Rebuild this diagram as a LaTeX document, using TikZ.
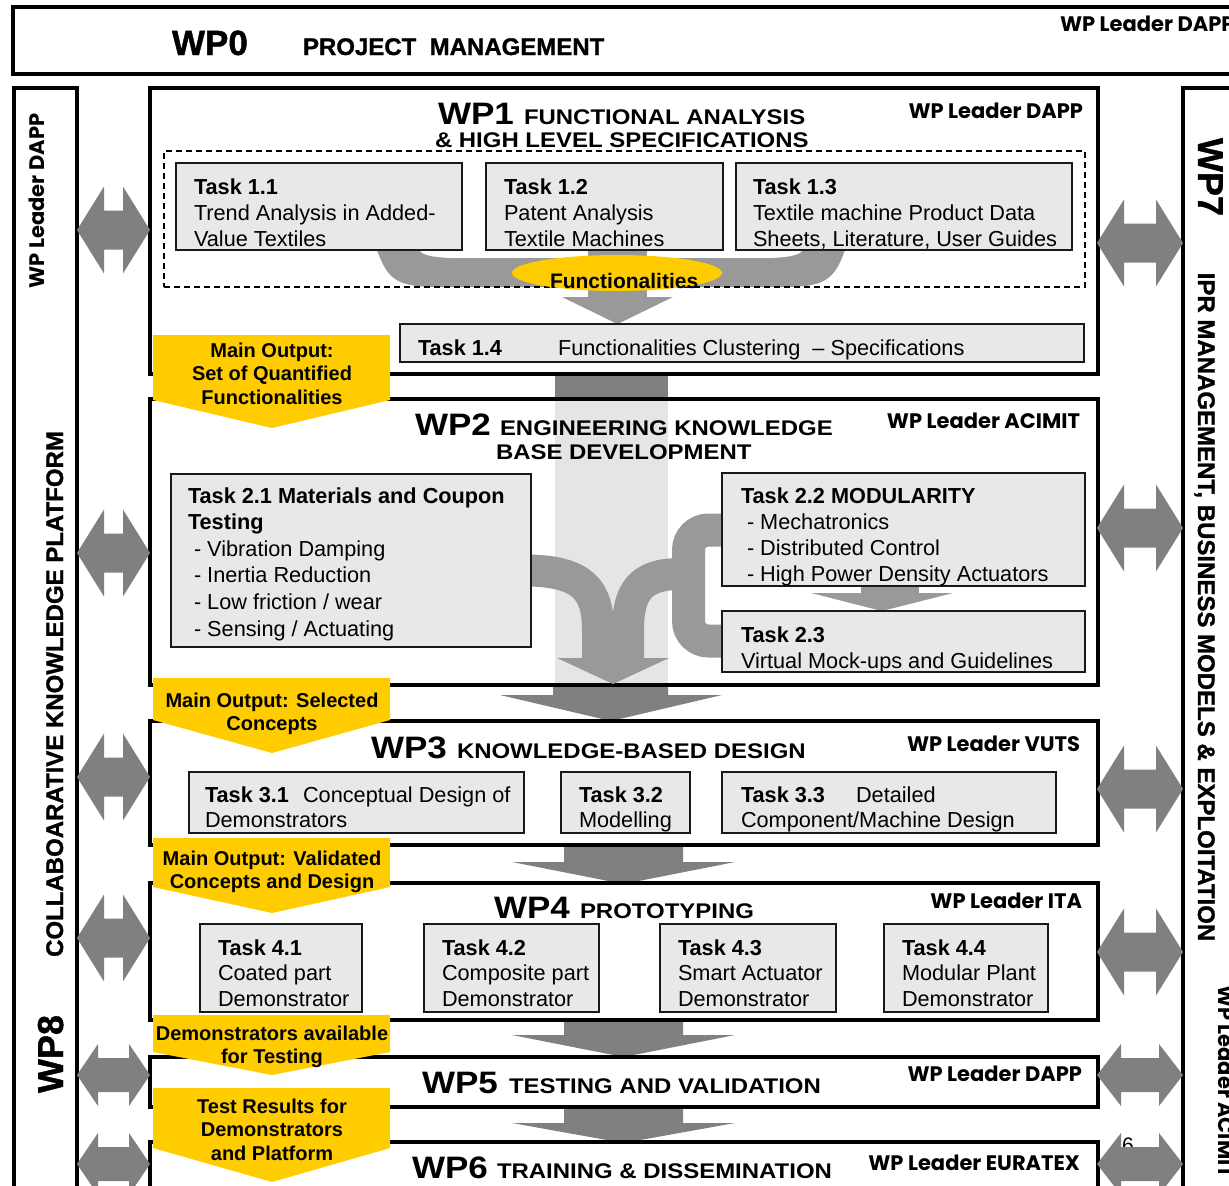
\documentclass[tikz,border=0pt]{standalone}
\usepackage{fontspec}
\setmainfont{Liberation Sans}
\newfontfamily\headfont{Liberation Sans}[FakeStretch=1.13]
\newfontfamily\heavyfont{Liberation Sans}[FakeBold=1.2]
\newfontfamily\leaderfont{Poppins}
\usetikzlibrary{shapes.geometric}
\definecolor{taskfill}{RGB}{232,232,232}
\definecolor{flowgrey}{RGB}{153,153,153}
\definecolor{darkgrey}{RGB}{128,128,128}
\definecolor{bandgrey}{RGB}{229,229,229}
\definecolor{gold}{RGB}{255,204,0}
\newcommand{\fsz}[2]{\fontsize{#1}{#2}\selectfont}
\newcommand{\wpBox}[6]{\node[#1,anchor=north west,minimum width={#5-#3},minimum height={#6-#4}] (#2) at (#3,#4) {};}
% xl, xr, yc, head half height, shaft half height, head length
\newcommand{\dblArrow}[6]{\fill[darkgrey] (#1,#3) -- ({#1+#6},{#3-#4}) -- ({#1+#6},{#3-#5}) -- ({#2-#6},{#3-#5}) -- ({#2-#6},{#3-#4}) -- (#2,#3) -- ({#2-#6},{#3+#4}) -- ({#2-#6},{#3+#5}) -- ({#1+#6},{#3+#5}) -- ({#1+#6},{#3+#4}) -- cycle;}
\newcommand{\downArrow}[7]{\fill[darkgrey] (#1,#3) -- (#2,#3) -- (#2,#4) -- (#6,#4) -- ({(#5+#6)/2},#7) -- (#5,#4) -- (#1,#4) -- cycle;}
\newcommand{\calloutShape}[3]{\fill[gold] (153,#1) -- (390,#1) -- (390,#2) -- (272,#3) -- (153,#2) -- cycle;}
\tikzset{
  every node/.style={inner sep=0pt, outer sep=0pt},
  wpbox/.style={draw=black, line width=4.5pt},
  taskbox/.style={draw=black!90, line width=2pt, fill=taskfill},
  dashbox/.style={draw=black, line width=1.3pt, dash pattern=on 6pt off 4pt},
  tasktext/.style={anchor=north west, align=left, font=\fsz{21.7}{26.2}},
  callouttext/.style={anchor=north, align=center, font=\bfseries\fsz{20}{23.5}},
  bignum/.style={anchor=base west, font=\headfont\bfseries\fsz{31}{31}},
  subtitle/.style={anchor=base west, font=\headfont\bfseries\fsz{21.2}{24}},
  leader/.style={anchor=base east, font=\leaderfont\bfseries\fsz{21}{22}},
}
\begin{document}
\begin{tikzpicture}[x=1pt,y=-1pt]
\useasboundingbox (0,0) rectangle (1229,1186);
\clip (0,0) rectangle (1229,1186);

% background band and arrows between work packages
\fill[bandgrey] (555,400) rectangle (668,685);
\fill[darkgrey] (555,374) rectangle (668,400);
\downArrow{553}{668}{685}{695}{500}{722}{721}
\downArrow{564}{683}{845}{862}{512}{735}{884}
\downArrow{564}{683}{1020}{1035}{512}{735}{1057}
\downArrow{564}{683}{1107}{1123}{512}{735}{1143}

% frames
\wpBox{wpbox}{wp0}{13}{7}{1260}{74}
\wpBox{wpbox}{wp8col}{14}{88}{77}{1260}
\wpBox{wpbox}{wp7col}{1183}{88}{1260}{1260}
\wpBox{wpbox}{wp1}{150}{88}{1098}{374}
\wpBox{wpbox}{wp2}{150}{399}{1098}{685}
\wpBox{wpbox}{wp3}{150}{721}{1098}{845}
\wpBox{wpbox}{wp4}{150}{883}{1098}{1020}
\wpBox{wpbox}{wp5}{150}{1057}{1098}{1107}
\wpBox{wpbox}{wp6}{150}{1142}{1098}{1300}

% WP1 flows
\fill[flowgrey] (377,250) .. controls (388,281) and (398,287) .. (440,287) -- (617,287) -- (617,258) -- (450,258) .. controls (428,257) and (421,254) .. (419,250) -- cycle;
\fill[flowgrey] (845,250) .. controls (834,281) and (824,287) .. (782,287) -- (605,287) -- (605,258) -- (772,258) .. controls (794,257) and (801,254) .. (803,250) -- cycle;
\fill[flowgrey] (588,250) rectangle (647,298);
\fill[flowgrey] (562,297) -- (673,297) -- (617.5,324) -- cycle;
\wpBox{dashbox}{dash1}{164}{151}{1085}{287}
\node[fill=gold, ellipse, minimum width=210, minimum height=36] (funcell) at (617,273) {};
\node[anchor=base west, font=\bfseries\fsz{21}{21}] (functxt) at (550,288) {Functionalities};

% WP2 flows
\draw[flowgrey, line width=33pt, rounded corners=20pt] (730,530) -| (688.5,641) -- (730,641);
\draw[flowgrey, line width=32pt] (525,570.5) .. controls (585,570.5) and (598,592) .. (598,630) -- (598,660);
\draw[flowgrey, line width=32pt] (680,574) .. controls (640,574) and (628,592) .. (628,630) -- (628,660);
\fill[flowgrey] (557,658) -- (669,658) -- (613,684) -- cycle;
\fill[flowgrey] (861,586) rectangle (919,594);
\fill[flowgrey] (811,593) -- (953,593) -- (882,611) -- cycle;

% task boxes
\wpBox{taskbox}{t11}{176}{163}{462}{250}
\wpBox{taskbox}{t12}{486}{163}{723}{250}
\wpBox{taskbox}{t13}{736}{163}{1072}{250}
\wpBox{taskbox}{t14}{400}{324}{1084}{362}
\wpBox{taskbox}{t21}{171}{474}{531}{647}
\wpBox{taskbox}{t22}{722}{473}{1085}{586}
\wpBox{taskbox}{t23}{722}{611}{1085}{672}
\wpBox{taskbox}{t31}{189}{772}{524}{833}
\wpBox{taskbox}{t32}{561}{772}{690}{833}
\wpBox{taskbox}{t33}{722}{772}{1056}{833}
\wpBox{taskbox}{t41}{200}{924}{362}{1012}
\wpBox{taskbox}{t42}{424}{924}{599}{1012}
\wpBox{taskbox}{t43}{660}{924}{836}{1012}
\wpBox{taskbox}{t44}{884}{924}{1048}{1012}

% task texts
\node[tasktext] (t11txt) at (194,178.4) {\textbf{Task 1.1}\\Trend Analysis in Added-\\Value Textiles};
\node[tasktext] (t12txt) at (504,178.4) {\textbf{Task 1.2}\\Patent Analysis\\Textile Machines};
\node[tasktext] (t13txt) at (753,178.4) {\textbf{Task 1.3}\\Textile machine Product Data\\Sheets, Literature, User Guides};
\node[anchor=base west, font=\bfseries\fsz{21.7}{26}] (t14a) at (418,355) {Task 1.4};
\node[anchor=base west, font=\fsz{21.7}{26}] (t14b) at (558,355) {Functionalities Clustering\ \ -- Specifications};
\node[tasktext, font=\fsz{21.7}{26.6}] (t21txt) at (188,487.4) {\textbf{Task 2.1 Materials and Coupon}\\\textbf{Testing}\\\hspace*{6pt}- Vibration Damping\\\hspace*{6pt}- Inertia Reduction\\\hspace*{6pt}- Low friction / wear\\\hspace*{6pt}- Sensing / Actuating};
\node[tasktext] (t22txt) at (741,487.4) {\textbf{Task 2.2 MODULARITY}\\\hspace*{6pt}- Mechatronics\\\hspace*{6pt}- Distributed Control\\\hspace*{6pt}- High Power Density Actuators};
\node[tasktext] (t23txt) at (741,626.4) {\textbf{Task 2.3}\\Virtual Mock-ups and Guidelines};
\node[tasktext, font=\fsz{21.7}{25.2}] (t31txt) at (205,786.4) {\textbf{Task 3.1}\hspace{14pt}Conceptual Design of\\Demonstrators};
\node[tasktext, font=\fsz{21.7}{25.2}] (t32txt) at (579,786.4) {\textbf{Task 3.2}\\Modelling};
\node[tasktext, font=\fsz{21.7}{25.2}] (t33txt) at (741,786.4) {\textbf{Task 3.3}\hspace{31pt}Detailed\\Component/Machine Design};
\node[tasktext, font=\fsz{21.7}{25.5}] (t41txt) at (218,939.4) {\textbf{Task 4.1}\\Coated part\\Demonstrator};
\node[tasktext, font=\fsz{21.7}{25.5}] (t42txt) at (442,939.4) {\textbf{Task 4.2}\\Composite part\\Demonstrator};
\node[tasktext, font=\fsz{21.7}{25.5}] (t43txt) at (678,939.4) {\textbf{Task 4.3}\\Smart Actuator\\Demonstrator};
\node[tasktext, font=\fsz{21.7}{25.5}] (t44txt) at (902,939.4) {\textbf{Task 4.4}\\Modular Plant\\Demonstrator};

% WP titles
\node[anchor=base west, font=\heavyfont\bfseries\fsz{35}{35}] (wp0n) at (172,55) {WP0};
\node[anchor=base west, font=\heavyfont\bfseries\fsz{24}{24}] (wp0t) at (303,55) {PROJECT\ \ MANAGEMENT};
\node[bignum] (wp1n) at (438,124) {WP1};
\node[subtitle] (wp1t) at (524,124) {FUNCTIONAL ANALYSIS};
\node[subtitle] (wp1t2) at (435,147) {\& HIGH LEVEL SPECIFICATIONS};
\node[bignum] (wp2n) at (415,435) {WP2};
\node[subtitle] (wp2t) at (500,435) {ENGINEERING KNOWLEDGE};
\node[subtitle] (wp2t2) at (496,459) {BASE DEVELOPMENT};
\node[bignum] (wp3n) at (371,758) {WP3};
\node[subtitle] (wp3t) at (457,758) {KNOWLEDGE-BASED DESIGN};
\node[bignum] (wp4n) at (494,918) {WP4};
\node[subtitle] (wp4t) at (580,918) {PROTOTYPING};
\node[bignum] (wp5n) at (422,1093) {WP5};
\node[subtitle] (wp5t) at (509,1093) {TESTING AND VALIDATION};
\node[bignum] (wp6n) at (412,1178) {WP6};
\node[subtitle] (wp6t) at (497,1178) {TRAINING \& DISSEMINATION};

% leaders
\node[leader, anchor=base west] (wp0l) at (1060,31) {WP Leader DAPP};
\node[leader] (wp1l) at (1083,118) {WP Leader DAPP};
\node[leader] (wp2l) at (1080,428) {WP Leader ACIMIT};
\node[leader] (wp3l) at (1080,751) {WP Leader VUTS};
\node[leader] (wp4l) at (1082,908) {WP Leader ITA};
\node[leader] (wp5l) at (1082,1081) {WP Leader DAPP};
\node[leader] (wp6l) at (1080,1170) {WP Leader EURATEX};

% callouts
\calloutShape{335}{400}{428}
\node[callouttext] (c1) at (272,342.6) {Main Output:\\Set of Quantified\\Functionalities};
\calloutShape{678}{720}{753}
\node[callouttext] (c2) at (272,692.6) {Main Output: Selected\\Concepts};
\calloutShape{838}{887}{913}
\node[callouttext] (c3) at (272,850.6) {Main Output: Validated\\Concepts and Design};
\calloutShape{1015}{1052}{1075}
\node[callouttext] (c4) at (272,1025.6) {Demonstrators available\\for Testing};
\calloutShape{1088}{1148}{1182}
\node[callouttext] (c5) at (272,1098.6) {Test Results for\\Demonstrators\\and Platform};

% stray page number
\node[anchor=base west, font=\fsz{21}{21}] (pgnum) at (1122,1152) {6};

% double arrows
\foreach \yy in {230,553,777,938} {\dblArrow{77}{150}{\yy}{43.5}{19.5}{27}}
\foreach \yy in {1075,1164} {\dblArrow{77}{150}{\yy}{31}{17}{21}}
\foreach \yy in {243,528,789,952} {\dblArrow{1097}{1183}{\yy}{43.5}{19.5}{27}}
\foreach \yy in {1075,1164} {\dblArrow{1097}{1183}{\yy}{31}{17}{24}}

% column texts
\node[anchor=base, rotate=90, font=\leaderfont\bfseries\fsz{21}{22}] (wp8lead) at (44,201) {WP Leader DAPP};
\node[anchor=base, rotate=90, font=\heavyfont\bfseries\fsz{24}{24}] (wp8title) at (63,694) {COLLABOARATIVE KNOWLEDGE PLATFORM};
\node[anchor=base, rotate=90, font=\heavyfont\bfseries\fsz{36}{36}] (wp8num) at (63,1054) {WP8};
\node[anchor=base, rotate=-90, font=\heavyfont\bfseries\fsz{36}{36}] (wp7num) at (1198,177) {WP7};
\node[anchor=base, rotate=-90, font=\heavyfont\bfseries\fsz{24}{24}] (wp7title) at (1198,607) {IPR MANAGEMENT, BUSINESS MODELS \& EXPLOITATION};
\node[anchor=base west, rotate=-90, font=\leaderfont\bfseries\fsz{21}{22}] (wp7lead) at (1218,985) {WP Leader ACIMIT};
\end{tikzpicture}
\end{document}
